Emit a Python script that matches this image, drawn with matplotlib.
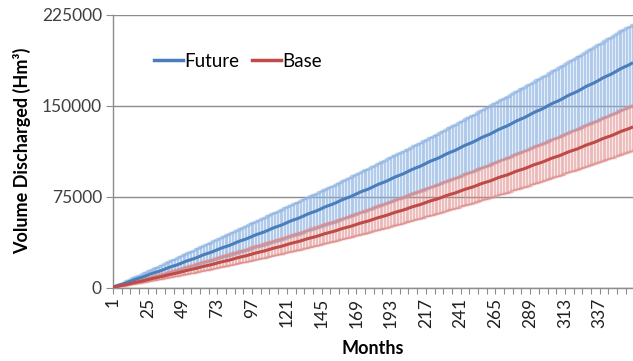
import numpy as np
import matplotlib
matplotlib.use("Agg")
import matplotlib.pyplot as plt
from matplotlib.lines import Line2D

# Annual discharge volumes (Hm3) for the 30-year simulation horizon
future_annual = [4900, 5050, 4980, 5210, 5240, 5400, 5380, 5560, 5590, 5740,
                 5760, 5900, 5930, 6090, 6110, 6260, 6290, 6440, 6460, 6610,
                 6650, 6790, 6820, 6960, 7000, 7140, 7170, 7310, 7350, 7480]
base_annual = [3100, 3210, 3270, 3390, 3450, 3570, 3640, 3750, 3820, 3930,
               4000, 4120, 4180, 4300, 4360, 4480, 4540, 4660, 4720, 4840,
               4900, 5030, 5090, 5200, 5270, 5390, 5450, 5570, 5630, 5750]

# Share of each year's volume discharged in each calendar month
monthly_share = [0.100, 0.094, 0.092, 0.083, 0.076, 0.070,
                 0.066, 0.070, 0.080, 0.086, 0.090, 0.093]

# Ensemble spread relative to the cumulative mean, per simulation year
future_upper_pct = [0.34, 0.33, 0.32, 0.31, 0.30, 0.29, 0.28, 0.27, 0.26, 0.25,
                    0.24, 0.23, 0.22, 0.215, 0.21, 0.205, 0.20, 0.195, 0.19, 0.188,
                    0.186, 0.184, 0.182, 0.18, 0.178, 0.177, 0.176, 0.175, 0.174, 0.173]
future_lower_pct = [0.25, 0.248, 0.246, 0.244, 0.242, 0.24, 0.238, 0.236, 0.234, 0.232,
                    0.23, 0.226, 0.222, 0.218, 0.214, 0.21, 0.208, 0.206, 0.204, 0.202,
                    0.20, 0.198, 0.196, 0.195, 0.194, 0.193, 0.192, 0.19, 0.189, 0.188]
base_upper_pct = [0.28, 0.275, 0.27, 0.26, 0.25, 0.24, 0.23, 0.22, 0.21, 0.20,
                  0.195, 0.19, 0.185, 0.18, 0.178, 0.176, 0.174, 0.17, 0.166, 0.162,
                  0.158, 0.155, 0.152, 0.15, 0.148, 0.146, 0.144, 0.142, 0.14, 0.138]
base_lower_pct = [0.20, 0.198, 0.196, 0.194, 0.192, 0.19, 0.188, 0.186, 0.184, 0.182,
                  0.18, 0.178, 0.176, 0.174, 0.172, 0.17, 0.168, 0.166, 0.164, 0.162,
                  0.16, 0.158, 0.156, 0.154, 0.152, 0.15, 0.149, 0.148, 0.147, 0.146]

series_names = ["Future", "Base"]
y_ticks = [0, 75000, 150000, 225000]
x_tick_labels = [1, 25, 49, 73, 97, 121, 145, 169, 193, 217, 241, 265, 289, 313, 337]


def cumulative(annual):
    monthly = np.outer(annual, monthly_share).ravel()
    return np.cumsum(monthly)


def per_month(yearly):
    return np.repeat(np.asarray(yearly, dtype=float), len(monthly_share))


future = cumulative(future_annual)
base = cumulative(base_annual)
months = np.arange(1, len(future) + 1)

future_err = [future * per_month(future_lower_pct), future * per_month(future_upper_pct)]
base_err = [base * per_month(base_lower_pct), base * per_month(base_upper_pct)]

plt.rcParams["font.family"] = ["Lato", "DejaVu Sans"]

fig = plt.figure(figsize=(6.33, 3.61), dpi=100)
ax = fig.add_axes([0.1785, 0.203, 0.8215, 0.756])

blue = "#4A7EBB"
red = "#BE4B48"
blue_err = "#8DB3E2"
red_err = "#DE8A88"

ax.errorbar(months, future, yerr=future_err,
            fmt="none", ecolor=blue_err, elinewidth=1.0, capsize=2.0,
            capthick=1.0, alpha=0.62, zorder=2)
ax.errorbar(months, base, yerr=base_err,
            fmt="none", ecolor=red_err, elinewidth=1.0, capsize=2.0,
            capthick=1.0, alpha=0.5, zorder=3)
ax.plot(months, future, color=blue, lw=2.2, zorder=4, solid_capstyle="butt")
ax.plot(months, base, color=red, lw=2.2, zorder=5, solid_capstyle="butt")

ax.set_xlim(1, 360)
ax.set_ylim(0, 225000)
ax.set_yticks(y_ticks)
ax.set_yticklabels([str(v) for v in y_ticks], fontsize=12.5, color="#404040")

ax.set_xticks(np.arange(1, 361, 6))
labels = []
for t in np.arange(1, 361, 6):
    labels.append(str(t) if t in x_tick_labels else "")
ax.set_xticklabels(labels, rotation=90, fontsize=12.5, color="#202020")

ax.tick_params(axis="x", length=4, width=0.8, color="#8C8C8C", pad=3)
ax.tick_params(axis="y", length=5, width=0.8, color="#8C8C8C", pad=3)

ax.grid(axis="y", color="#8C8C8C", lw=1.0, zorder=0)
ax.set_axisbelow(True)
for side in ("top", "right"):
    ax.spines[side].set_visible(False)
for side in ("left", "bottom"):
    ax.spines[side].set_color("#8C8C8C")
    ax.spines[side].set_linewidth(1.0)

ax.set_ylabel("Volume Discharged (Hm³)", fontsize=13, fontweight="bold", labelpad=8)
ax.set_xlabel("Months", fontsize=13, fontweight="bold", labelpad=9)

handles = [Line2D([], [], color=blue, lw=2.5), Line2D([], [], color=red, lw=2.5)]
ax.legend(handles, series_names, loc="center left", bbox_to_anchor=(0.079, 0.83),
          ncol=2, frameon=False, fontsize=13.5, handlelength=1.55,
          handletextpad=0.08, columnspacing=0.65, borderaxespad=0, borderpad=0)

fig.savefig("out.png", dpi=100)
